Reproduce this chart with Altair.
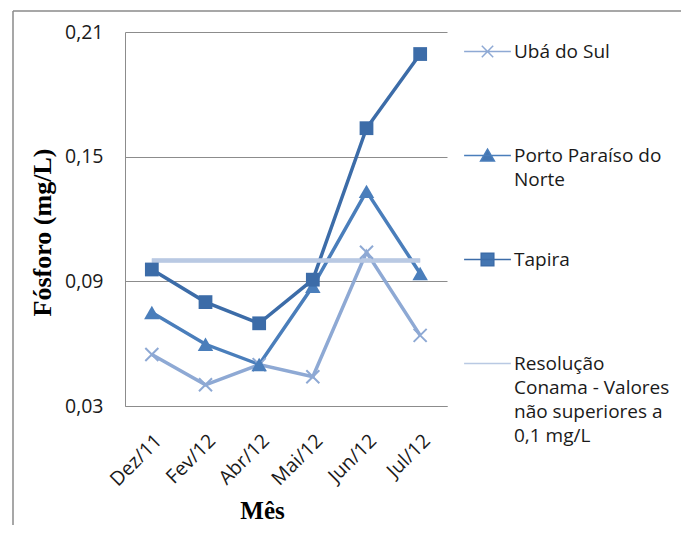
import altair as alt
import pandas as pd

months = ["Dez/11", "Fev/12", "Abr/12", "Mai/12", "Jun/12", "Jul/12"]
series_names = [
    "Ubá do Sul",
    "Porto Paraíso do Norte",
    "Tapira",
    "Resolução Conama - Valores não superiores a 0,1 mg/L",
]
uba = [0.0548, 0.0402, 0.0499, 0.0441, 0.1040, 0.0640]
porto = [0.0750, 0.0597, 0.0500, 0.0876, 0.1333, 0.0938]
tapira = [0.0957, 0.0800, 0.0698, 0.0908, 0.1637, 0.1994]
conama = [0.10, 0.10, 0.10, 0.10, 0.10, 0.10]
y_ticks = [0.03, 0.09, 0.15, 0.21]

colors = ["#8EA9D4", "#4A7EBB", "#3C6CA8", "#B9C9E3"]
legend_paths = [
    "M-3.9,0H3.9M-0.95,-0.95L0.95,0.95M-0.95,0.95L0.95,-0.95",
    "M-3.9,0H3.9M0,-1.05L1.15,0.9H-1.15Z",
    "M-3.9,0H3.9M-1.05,-1.05H1.05V1.05H-1.05Z",
    "M-3.9,0H3.9",
]

values = {series_names[0]: uba, series_names[1]: porto,
          series_names[2]: tapira, series_names[3]: conama}
draw_order = [series_names[0], series_names[3], series_names[1], series_names[2]]
rows = []
for name in draw_order:
    for m, v in zip(months, values[name]):
        rows.append({"mes": m, "valor": v, "serie": name})
df = pd.DataFrame(rows)

FONT = "Open Sans"
TITLE_FONT = "Liberation Serif"

x_enc = alt.X(
    "mes:N",
    sort=months,
    scale=alt.Scale(type="point", padding=0.5),
    axis=alt.Axis(
        title="Mês", titleFont=TITLE_FONT, titleFontSize=25, titleFontWeight="bold",
        titleColor="#000000", titleX=137, titleY=104, titleBaseline="middle",
        labelAngle=-45, labelFont=FONT, labelFontSize=19.5, labelColor="#1a1a1a",
        labelPadding=25, ticks=False, grid=False, domainColor="#8c8c8c",
    ),
)
y_enc = alt.Y(
    "valor:Q",
    scale=alt.Scale(domain=[0.03, 0.21], nice=False, zero=False),
    axis=alt.Axis(
        values=y_ticks, title="Fósforo (mg/L)", titleFont=TITLE_FONT, titleFontSize=26,
        titleFontWeight="bold", titleColor="#000000", titleX=-83, titleY=200,
        titleBaseline="middle", titleAngle=270,
        labelExpr="replace(format(datum.value, '.2f'), '.', ',')",
        labelFont=FONT, labelFontSize=19.5, labelColor="#1a1a1a", labelPadding=22,
        ticks=False, grid=True, gridColor="#8c8c8c", domainColor="#8c8c8c",
    ),
)

frame_data = pd.DataFrame({"k": [0]})
frame_left = alt.Chart(frame_data).mark_rule(color="#8a8a8a", strokeWidth=1.5).encode(
    x=alt.value(-112), y=alt.value(-21), y2=alt.value(600)
)
frame_top = alt.Chart(frame_data).mark_rule(color="#8a8a8a", strokeWidth=1.5).encode(
    x=alt.value(-112), x2=alt.value(700), y=alt.value(-21)
)

base = alt.Chart(df)

label_expr = (
    "datum.label == 'Porto Paraíso do Norte' ? ['Porto Paraíso do', 'Norte'] : "
    "(datum.label == 'Resolução Conama - Valores não superiores a 0,1 mg/L' ? "
    "['Resolução', 'Conama - Valores', 'não superiores a', '0,1 mg/L'] : [datum.label, ''])"
)

leg_props = dict(
    title=None, orient="none", legendX=353, legendY=10, padding=0,
    labelExpr=label_expr, labelFont=FONT, labelFontSize=19, labelColor="#1a1a1a",
    labelLimit=400, labelOffset=17, symbolSize=144, rowPadding=60,
)
lines = base.mark_line(strokeWidth=3.5).encode(
    x=x_enc, y=y_enc,
    color=alt.Color("serie:N", scale=alt.Scale(domain=series_names, range=colors),
                    legend=alt.Legend(**leg_props)),
    detail="serie:N",
)
lines_conama = base.transform_filter(alt.datum.serie == series_names[3]).mark_line(
    strokeWidth=4.5, color=colors[3]).encode(x=x_enc, y=y_enc)

pts_uba = base.transform_filter(alt.datum.serie == series_names[0]).mark_point(
    shape="M-1,-1L1,1M-1,1L1,-1", filled=False, strokeWidth=2, size=170, color=colors[0], opacity=1
).encode(x=x_enc, y=y_enc)
pts_porto = base.transform_filter(alt.datum.serie == series_names[1]).mark_point(
    shape="triangle-up", filled=True, size=240, color=colors[1], opacity=1
).encode(x=x_enc, y=y_enc)
pts_tapira = base.transform_filter(alt.datum.serie == series_names[2]).mark_point(
    shape="square", filled=True, size=190, color=colors[2], opacity=1
).encode(x=x_enc, y=y_enc)

legend_layer = base.mark_point(
    filled=True, strokeWidth=3, opacity=0, color="#4476B2"
).encode(
    x=x_enc, y=y_enc,
    shape=alt.Shape("serie:N", scale=alt.Scale(domain=series_names, range=legend_paths),
                    legend=alt.Legend(**leg_props)),
)

chart = alt.layer(
    frame_left, frame_top, lines, lines_conama, pts_uba, pts_porto, pts_tapira, legend_layer
).properties(
    width=322, height=374,
    autosize=alt.AutoSizeParams(type="none"),
    padding={"left": 117, "top": 24, "right": 234, "bottom": 119},
).configure(
    background="white",
    view=alt.ViewConfig(stroke=None),
    style={"guide-label": {"lineHeight": 24}},
)

chart.save("out.html", embed_options={"renderer": "svg", "actions": False})
